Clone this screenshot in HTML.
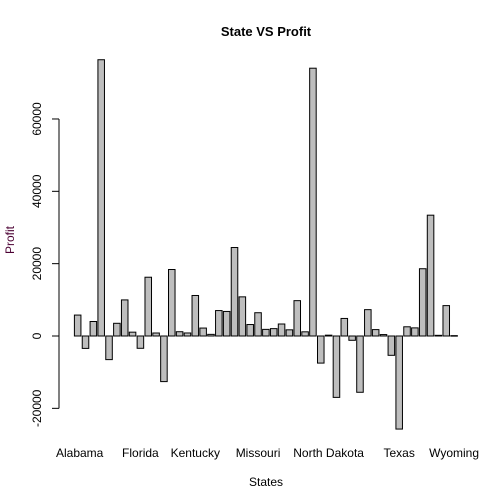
<!DOCTYPE html>
<html><head><meta charset="utf-8"><style>body{margin:0;background:#fff}svg{display:block;font-family:"Liberation Sans",Arial,sans-serif}</style></head>
<body>
<svg id="c" width="504" height="504">
<text x="266" y="36" text-anchor="middle" font-weight="bold" font-size="13">State VS Profit</text>
<text x="266" y="486" text-anchor="middle" font-size="12">States</text>
<text x="14" y="240" text-anchor="middle" font-size="12" fill="#4B0033" transform="rotate(-90 14 240)">Profit</text>
</svg>
<script>
const states=["Alabama","Arizona","Arkansas","California","Colorado","Connecticut","Delaware","District of Columbia","Florida","Georgia","Idaho","Illinois","Indiana","Iowa","Kansas","Kentucky","Louisiana","Maine","Maryland","Massachusetts","Michigan","Minnesota","Mississippi","Missouri","Montana","Nebraska","Nevada","New Hampshire","New Jersey","New Mexico","New York","North Carolina","North Dakota","Ohio","Oklahoma","Oregon","Pennsylvania","Rhode Island","South Carolina","South Dakota","Tennessee","Texas","Utah","Vermont","Virginia","Washington","West Virginia","Wisconsin","Wyoming"];
const profit=[5787,-3428,4009,76381,-6528,3511,9977,1060,-3399,16250,827,-12608,18383,1184,836,11200,2196,454,7031,6786,24463,10823,3172,6436,1833,2037,3317,1707,9773,1157,74039,-7491,230,-16971,4853,-1190,-15560,7286,1769,395,-5342,-25729,2547,2245,18598,33403,186,8402,100];
const shownLabels=["Alabama","Florida","Kentucky","Missouri","North Dakota","Texas","Wyoming"];
const yTicks=[-20000,0,20000,40000,60000];
const NS="http://www.w3.org/2000/svg",svg=document.getElementById("c");
const unit=6.535;
const xl=i=>74.4+1.2*i*unit;
const y=v=>336-v*0.003617;
function mk(t,a){const e=document.createElementNS(NS,t);for(const k in a)e.setAttribute(k,a[k]);svg.appendChild(e);return e;}
profit.forEach((v,i)=>{
 const r=mk("rect",{x:xl(i),y:Math.min(y(v),y(0)),width:unit,height:Math.max(Math.abs(y(v)-y(0)),0.5),fill:"#BEBEBE",stroke:"#000","stroke-width":1});
 
 
});
const ax=mk("line",{x1:59,x2:59,y1:y(yTicks[0]),y2:y(yTicks[yTicks.length-1]),stroke:"#000"});


yTicks.forEach(t=>{
 const l=mk("line",{x1:52,x2:59,y1:y(t),y2:y(t),stroke:"#000"});
 
 
 const tx=mk("text",{x:41,y:y(t),"text-anchor":"middle","font-size":12,transform:`rotate(-90 41 ${y(t)})`});
 tx.textContent=t;
 
 
});
shownLabels.forEach(s=>{
 const i=states.indexOf(s);
 const tx=mk("text",{x:xl(i)+unit/2+(i===0?2:0),y:457,"text-anchor":"middle","font-size":12});
 tx.textContent=s;
 
 
});
</script>
</body></html>
